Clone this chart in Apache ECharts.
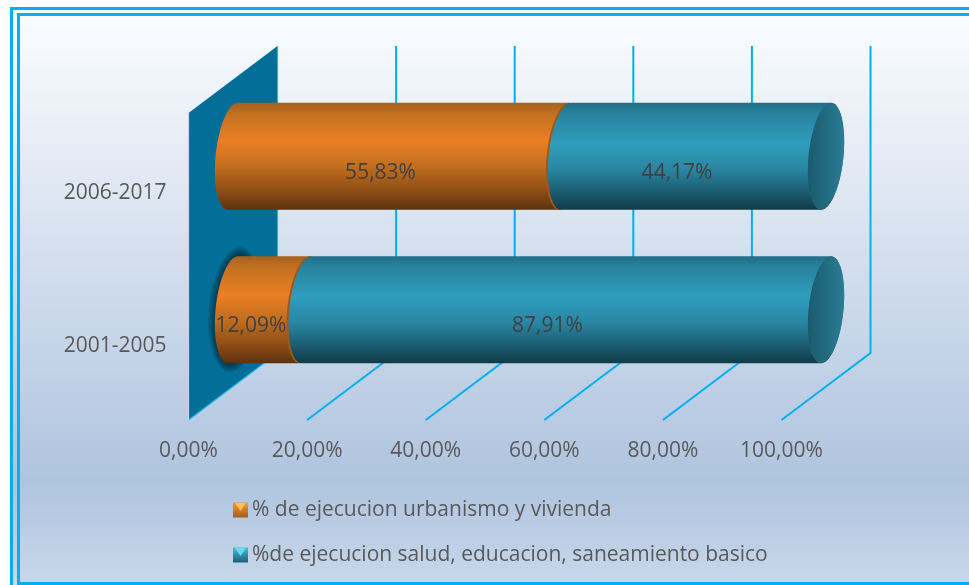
<!DOCTYPE html>
<html>
<head>
<meta charset="utf-8">
<style>html,body{margin:0;padding:0;background:#fff}#c{width:969px;height:585px}</style>
<script src="https://cdn.jsdelivr.net/npm/echarts@6/dist/echarts.min.js"></script>
</head>
<body>
<div id="c"></div>
<script>
const categories = ['2001-2005', '2006-2017'];
const urbanismo = [12.09, 55.83];
const social = [87.91, 44.17];
const ticks = [20, 40, 60, 80, 100];
const seriesNames = ['% de ejecucion urbanismo y vivienda', '%de ejecucion salud, educacion, saneamiento basico'];

const FONT = '"Open Sans"';
const DX = 89, DY = -67;       // depth of the 3D box
const RX = 17.5, RY = 53.5, SK = 5;
const LG = echarts.graphic.LinearGradient;
const fmt = v => v.toFixed(2).replace('.', ',') + '%';

const orangeGrad = () => new LG(0, 0, 0, 1, [
  {offset: 0, color: '#a5611f'}, {offset: 0.1, color: '#c2701f'}, {offset: 0.36, color: '#ea7f25'},
  {offset: 0.6, color: '#c06d1e'}, {offset: 0.82, color: '#8f4f16'}, {offset: 1, color: '#5c320d'}]);
const tealGrad = () => new LG(0, 0, 0, 1, [
  {offset: 0, color: '#236f87'}, {offset: 0.1, color: '#27829d'}, {offset: 0.38, color: '#2f9dbe'},
  {offset: 0.62, color: '#2a86a3'}, {offset: 0.84, color: '#1b5b70'}, {offset: 1, color: '#113b48'}]);

function arc(cx, cy, from, to, n, grow) {
  const p = [], g = grow || 0;
  for (let i = 0; i <= n; i++) {
    const t = (from + (to - from) * i / n) * Math.PI / 180;
    p.push([cx + (RX + g) * Math.cos(t) - SK * Math.sin(t), cy + (RY + g) * Math.sin(t)]);
  }
  return p;
}

function cylinder(params, api, orange) {
  const start = api.value(0), end = api.value(1), cat = params.dataIndex;
  const a = api.coord([start, cat]), b = api.coord([end, cat]);
  const cy = a[1] + DY / 2;
  const x0 = a[0] + DX / 2 + (orange ? 0 : 2), x1 = b[0] + DX / 2;
  const kids = [];
  if (orange && cat === 0) {
    [9, 7.5, 6, 4.5, 3, 1.5].forEach(g => kids.push({type: 'polygon', z2: 0,
      shape: {points: arc(x0 + 2, cy, 0, 360, 48, g)},
      style: {fill: 'rgba(0,30,50,0.16)'}}));
  }
  const pts = arc(x0, cy, 90, 270, 24).concat(arc(x1, cy, -90, 90, 24));
  kids.push({type: 'polygon', z2: orange ? 1 : 3, shape: {points: pts},
    style: {fill: orange ? orangeGrad() : tealGrad()}});
  kids.push({type: 'polygon', z2: orange ? 2 : 4, shape: {points: arc(x1, cy, 0, 360, 48)},
    style: {fill: orange ? '#a05817' : new LG(0, 0, 1, 0, [{offset: 0, color: '#1a5a6d'}, {offset: 1, color: '#2a7d94'}])}});
  kids.push({type: 'text', z2: 100, style: {
    text: fmt(end - start), x: (a[0] + b[0]) / 2 + 26.5, y: a[1] - 17,
    fill: '#404040', font: '21px ' + FONT, align: 'center', verticalAlign: 'middle'}});
  return {type: 'group', children: kids};
}

const stackRows = (vals, bases) => vals.map((v, i) => [bases[i], bases[i] + v, i]);
const urbanRows = stackRows(urbanismo, urbanismo.map(() => 0));
const socialRows = stackRows(social, urbanismo);

const chart = echarts.init(document.getElementById('c'), null, {renderer: 'canvas'});
chart.setOption({
  animation: false,
  graphic: [
    {type: 'rect', z: -10, shape: {x: 13, y: 9, width: 956, height: 576}, style: {fill: new LG(0, 0, 0, 1, [
      {offset: 0, color: '#fbfdff'}, {offset: 0.3, color: '#e0e8f3'}, {offset: 0.82, color: '#afc4df'}, {offset: 1, color: '#c8d7ea'}])}},
    {type: 'rect', z: -9, shape: {x: 13, y: 9, width: 956, height: 4}, style: {fill: '#ffffff'}},
    {type: 'rect', z: -8, shape: {x: 11.5, y: 8.5, width: 970, height: 600}, style: {fill: 'none', stroke: '#00b0f0', lineWidth: 3}},
    {type: 'rect', z: -8, shape: {x: 18.5, y: 14.5, width: 960, height: 569}, style: {fill: 'none', stroke: '#00b0f0', lineWidth: 3}},
    {type: 'polygon', z: 50, shape: {points: [[235, 503], [246, 503], [240.5, 511]]}, style: {fill: '#fbc15e'}},
    {type: 'polygon', z: 50, shape: {points: [[235, 548], [246, 548], [240.5, 556]]}, style: {fill: '#62dcf2'}}
  ],
  grid: {left: 188.5, top: 113, width: 593, height: 307, containLabel: false},
  xAxis: {
    type: 'value', min: 0, max: 100, interval: 20,
    axisLine: {show: false}, axisTick: {show: false}, splitLine: {show: false},
    axisLabel: {margin: 21, color: '#595959', fontFamily: FONT, fontSize: 21, formatter: v => fmt(v)}
  },
  yAxis: {
    type: 'category', data: categories,
    axisLine: {show: false}, axisTick: {show: false}, splitLine: {show: false},
    axisLabel: {margin: 22, formatter: '{a|{value}}',
      rich: {a: {color: '#595959', fontFamily: FONT, fontSize: 21, padding: [6, 0, 0, 0]}}}
  },
  legend: {
    orient: 'vertical', left: 233, top: 499.5, padding: 0, itemWidth: 15, itemHeight: 15, itemGap: 24, align: 'left',
    selectedMode: false,
    textStyle: {color: '#595959', fontFamily: FONT, fontSize: 21, padding: [0, 0, 0, -1]},
    data: [
      {name: seriesNames[0], icon: 'rect', itemStyle: {color: new LG(0, 0, 0, 1, [{offset: 0, color: '#f09a3a'}, {offset: 1, color: '#a85c18'}])}},
      {name: seriesNames[1], icon: 'rect', itemStyle: {color: new LG(0, 0, 0, 1, [{offset: 0, color: '#3fbfdb'}, {offset: 1, color: '#1d5f75'}])}}
    ]
  },
  series: [
    {
      type: 'custom', name: 'pared', z: 1, silent: true, data: [[0]], encode: {x: 0},
      renderItem(params, api) {
        const x = api.coord([api.value(0), 0])[0];
        const r = params.coordSys, top = r.y, bot = r.y + r.height;
        return {type: 'group', children: [
          {type: 'polygon', shape: {points: [[x, top], [x + DX, top + DY], [x + DX, bot + DY], [x, bot]]},
            style: {fill: '#036f98'}},
          {type: 'polyline', shape: {points: [[x + DX, top + DY], [x + DX, bot + DY], [x, bot]]},
            style: {fill: 'none', stroke: '#1ab4ee', lineWidth: 1.2}},
          {type: 'line', shape: {x1: x, y1: top, x2: x, y2: bot}, style: {stroke: '#c7d3df', lineWidth: 1.2}}
        ]};
      }
    },
    {
      type: 'custom', name: 'rejilla', z: 1, silent: true, data: ticks.map(t => [t]), encode: {x: 0},
      renderItem(params, api) {
        const x = api.coord([api.value(0), 0])[0];
        const r = params.coordSys, top = r.y, bot = r.y + r.height;
        return {type: 'polyline', shape: {points: [[x, bot], [x + DX, bot + DY], [x + DX, top + DY]]},
          style: {fill: 'none', stroke: '#00b0f0', lineWidth: 2}};
      }
    },
    {
      type: 'custom', name: seriesNames[0], z: 3, data: urbanRows, encode: {x: [0, 1], y: 2},
      itemStyle: {color: '#e97e24'},
      renderItem: (params, api) => cylinder(params, api, true)
    },
    {
      type: 'custom', name: seriesNames[1], z: 3, data: socialRows, encode: {x: [0, 1], y: 2},
      itemStyle: {color: '#2f9dbe'},
      renderItem: (params, api) => cylinder(params, api, false)
    }
  ]
});
</script>
</body>
</html>
